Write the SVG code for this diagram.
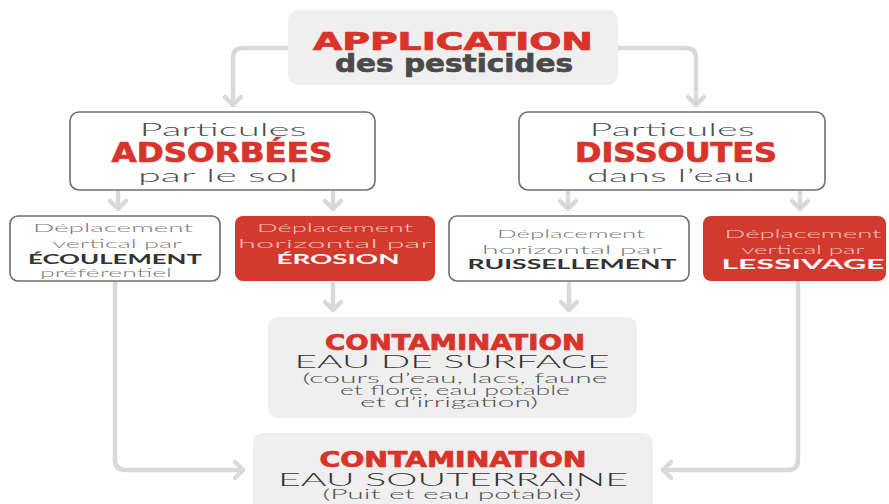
<svg xmlns="http://www.w3.org/2000/svg" width="889" height="504" viewBox="0 0 889 504">
<style>
.bg{fill:#efefef}
.wbox{fill:#ffffff;stroke:#6f6f6f;stroke-width:1.6}
.rbox{fill:#d2392f}
.conn{fill:none;stroke:#d9d9d9;stroke-width:4.5;stroke-linecap:round;stroke-linejoin:round}
.heavy{font-family:"DejaVu Sans","Liberation Sans Narrow","Liberation Sans",sans-serif;font-stretch:condensed;font-weight:700;text-anchor:middle}
.red{fill:#d9342b;stroke:#d9342b;stroke-width:0.7}
.dg{fill:#4a4a4a;stroke:#4a4a4a;stroke-width:0.6}
.lt{font-family:Lato,"Open Sans","Liberation Sans",sans-serif;font-weight:300;text-anchor:middle}
.md{font-family:Lato,"Open Sans","Liberation Sans",sans-serif;font-weight:700;text-anchor:middle}
.g5{fill:#4d4d4d}
.g7{fill:#7a7a7a}
.g3{fill:#333333}
.pk{fill:#f7c6be}
.wh{fill:#ffffff}
</style>
<g id="connectors">
<path class="conn" d="M288,48 H243 Q233,48 233,58 V105"/>
<path class="conn" d="M225,97 L233,105 L241,97"/>
<path class="conn" d="M618,48 H686 Q696,48 696,58 V105"/>
<path class="conn" d="M688,97 L696,105 L704,97"/>
<path class="conn" d="M118,193 V209 M110,201 L118,209 L126,201"/>
<path class="conn" d="M333,193 V209 M325,201 L333,209 L341,201"/>
<path class="conn" d="M568,193 V209 M560,201 L568,209 L576,201"/>
<path class="conn" d="M800,193 V209 M792,201 L800,209 L808,201"/>
<path class="conn" d="M333,284 V310 M325,302 L333,310 L341,302"/>
<path class="conn" d="M569,284 V310 M561,302 L569,310 L577,302"/>
<path class="conn" d="M115,282 V460 Q115,470 125,470 H243"/>
<path class="conn" d="M235,462 L243,470 L235,478"/>
<path class="conn" d="M798,282 V460 Q798,470 788,470 H663"/>
<path class="conn" d="M671,462 L663,470 L671,478"/>
</g>
<g id="application">
<rect class="bg" x="288" y="10" width="330" height="75" rx="10"/>
<text class="heavy red" x="453" y="50" font-size="25" textLength="280" lengthAdjust="spacingAndGlyphs">APPLICATION</text>
<text class="heavy dg" x="454" y="72" font-size="24" textLength="238" lengthAdjust="spacingAndGlyphs">des pesticides</text>
</g>
<g id="adsorbees">
<rect class="wbox" x="70" y="112" width="305" height="78" rx="9"/>
<text class="lt g5" x="223" y="136" font-size="18" textLength="167" lengthAdjust="spacingAndGlyphs">Particules</text>
<text class="heavy red" x="222" y="162" font-size="26" textLength="221" lengthAdjust="spacingAndGlyphs">ADSORBÉES</text>
<text class="lt g5" x="218" y="182" font-size="17" textLength="160" lengthAdjust="spacingAndGlyphs">par le sol</text>
</g>
<g id="dissoutes">
<rect class="wbox" x="519" y="112" width="306" height="78" rx="9"/>
<text class="lt g5" x="672" y="136" font-size="18" textLength="165" lengthAdjust="spacingAndGlyphs">Particules</text>
<text class="heavy red" x="676" y="162" font-size="26" textLength="202" lengthAdjust="spacingAndGlyphs">DISSOUTES</text>
<text class="lt g5" x="671" y="182" font-size="17" textLength="168" lengthAdjust="spacingAndGlyphs">dans l’eau</text>
</g>
<g id="ecoulement">
<rect class="wbox" x="10" y="216" width="210" height="65" rx="8"/>
<text class="lt g7" x="113" y="232" font-size="12.5" textLength="160" lengthAdjust="spacingAndGlyphs">Déplacement</text>
<text class="lt g7" x="117" y="248" font-size="12.5" textLength="129" lengthAdjust="spacingAndGlyphs">vertical par</text>
<text class="md g3" x="115" y="264" font-size="13" textLength="174" lengthAdjust="spacingAndGlyphs">ÉCOULEMENT</text>
<text class="lt g7" x="106" y="276.5" font-size="12" textLength="132" lengthAdjust="spacingAndGlyphs">préférentiel</text>
</g>
<g id="erosion">
<rect class="rbox" x="235" y="216" width="200" height="65" rx="8"/>
<text class="lt pk" x="335" y="232" font-size="12.5" textLength="156" lengthAdjust="spacingAndGlyphs">Déplacement</text>
<text class="lt pk" x="335" y="248" font-size="12.5" textLength="194" lengthAdjust="spacingAndGlyphs">horizontal par</text>
<text class="md wh" x="338" y="264" font-size="13" textLength="123" lengthAdjust="spacingAndGlyphs">ÉROSION</text>
</g>
<g id="ruissellement">
<rect class="wbox" x="449" y="216" width="240" height="65" rx="8"/>
<text class="lt g7" x="571" y="238" font-size="12.5" textLength="148" lengthAdjust="spacingAndGlyphs">Déplacement</text>
<text class="lt g7" x="572" y="254" font-size="12.5" textLength="180" lengthAdjust="spacingAndGlyphs">horizontal par</text>
<text class="md g3" x="572" y="269" font-size="13" textLength="209" lengthAdjust="spacingAndGlyphs">RUISSELLEMENT</text>
</g>
<g id="lessivage">
<rect class="rbox" x="703" y="216" width="183" height="65" rx="8"/>
<text class="lt pk" x="803" y="238" font-size="12.5" textLength="157" lengthAdjust="spacingAndGlyphs">Déplacement</text>
<text class="lt pk" x="803" y="254" font-size="12.5" textLength="123" lengthAdjust="spacingAndGlyphs">vertical par</text>
<text class="md wh" x="803" y="269" font-size="13" textLength="163" lengthAdjust="spacingAndGlyphs">LESSIVAGE</text>
</g>
<g id="surface">
<rect class="bg" x="268" y="317" width="369" height="101" rx="10"/>
<text class="heavy red" x="455" y="350" font-size="22" textLength="260" lengthAdjust="spacingAndGlyphs">CONTAMINATION</text>
<text class="lt g3" x="452" y="368" font-size="17.5" textLength="315" lengthAdjust="spacingAndGlyphs">EAU DE SURFACE</text>
<text class="lt g5" x="455" y="383" font-size="13" textLength="305" lengthAdjust="spacingAndGlyphs">(cours d’eau, lacs, faune</text>
<text class="lt g5" x="455" y="395" font-size="13" textLength="230" lengthAdjust="spacingAndGlyphs">et flore, eau potable</text>
<text class="lt g5" x="449" y="407" font-size="13" textLength="178" lengthAdjust="spacingAndGlyphs">et d’irrigation)</text>
</g>
<g id="souterraine">
<rect class="bg" x="253" y="433" width="400" height="80" rx="10"/>
<text class="heavy red" x="453" y="467" font-size="22" textLength="267" lengthAdjust="spacingAndGlyphs">CONTAMINATION</text>
<text class="lt g3" x="453" y="486" font-size="17.5" textLength="350" lengthAdjust="spacingAndGlyphs">EAU SOUTERRAINE</text>
<text class="lt g5" x="452" y="499" font-size="13" textLength="259" lengthAdjust="spacingAndGlyphs">(Puit et eau potable)</text>
</g>
</svg>
